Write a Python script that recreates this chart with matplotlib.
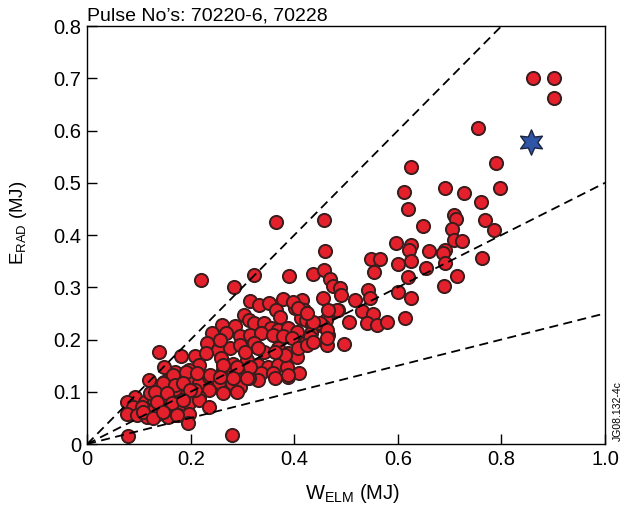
import numpy as np
import matplotlib
matplotlib.use("Agg")
import matplotlib.pyplot as plt

plt.rcParams['font.family'] = ['Liberation Sans', 'DejaVu Sans']
plt.rcParams['mathtext.fontset'] = 'custom'
plt.rcParams['mathtext.rm'] = 'Liberation Sans'
plt.rcParams['mathtext.it'] = 'Liberation Sans:italic'

# ELM data: W_ELM (MJ), E_RAD (MJ)
w_elm = [
    0.861, 0.902, 0.902, 0.754, 0.625, 0.789,
    0.612, 0.690, 0.727, 0.797, 0.761, 0.620, 0.365, 0.458, 0.648, 0.708,
    0.712, 0.769, 0.785, 0.704, 0.460, 0.597, 0.626, 0.621, 0.660, 0.691,
    0.688, 0.708, 0.724, 0.762, 0.548, 0.565, 0.600, 0.625, 0.654, 0.691,
    0.553, 0.620, 0.714, 0.689, 0.389, 0.437, 0.458, 0.468, 0.475, 0.488,
    0.491, 0.322, 0.219, 0.283, 0.543, 0.601, 0.625, 0.614, 0.518, 0.455,
    0.547, 0.531, 0.551, 0.541, 0.559, 0.579, 0.505, 0.474, 0.485, 0.462,
    0.455, 0.465, 0.464, 0.495,
    0.315, 0.332, 0.352, 0.378, 0.415, 0.418, 0.365, 0.372, 0.402, 0.412,
    0.422, 0.435, 0.432, 0.422, 0.302, 0.312, 0.260, 0.285, 0.322, 0.342,
    0.355, 0.368, 0.388, 0.405, 0.242, 0.269, 0.295, 0.315, 0.335, 0.358,
    0.378, 0.395, 0.232, 0.252, 0.275, 0.295, 0.322, 0.342, 0.368, 0.388,
    0.405, 0.408, 0.139, 0.182, 0.209, 0.229, 0.259, 0.282, 0.309, 0.329,
    0.349, 0.368, 0.385, 0.216, 0.196, 0.169, 0.149, 0.262, 0.282, 0.309,
    0.335, 0.358, 0.362, 0.388, 0.410, 0.329, 0.312, 0.119, 0.149, 0.169,
    0.192, 0.216, 0.236, 0.255, 0.279, 0.295, 0.236, 0.262, 0.289, 0.093,
    0.112, 0.129, 0.149, 0.172, 0.196, 0.216, 0.076, 0.089, 0.106, 0.129,
    0.152, 0.176, 0.196, 0.216, 0.236, 0.076, 0.096, 0.116, 0.136, 0.156,
    0.176, 0.196, 0.194, 0.079, 0.280, 0.162, 0.189, 0.209, 0.122, 0.142,
    0.169,
    0.166, 0.191, 0.212, 0.147, 0.170, 0.185, 0.131, 0.154, 0.199, 0.135,
    0.164, 0.185, 0.108, 0.127, 0.147, 0.174, 0.257, 0.305, 0.330, 0.263,
    0.290, 0.315, 0.237, 0.257, 0.282, 0.309, 0.450, 0.436, 0.463, 0.463,
    0.430, 0.425, 0.436, 0.483, 0.465, 0.382, 0.363, 0.398, 0.407, 0.425,
    0.388,
]
e_rad = [
    0.700, 0.700, 0.662, 0.604, 0.530, 0.537,
    0.483, 0.490, 0.480, 0.490, 0.464, 0.449, 0.425, 0.428, 0.417, 0.439,
    0.431, 0.428, 0.410, 0.412, 0.369, 0.385, 0.380, 0.372, 0.369, 0.372,
    0.366, 0.391, 0.388, 0.356, 0.355, 0.355, 0.345, 0.350, 0.337, 0.346,
    0.330, 0.320, 0.321, 0.302, 0.322, 0.326, 0.334, 0.316, 0.302, 0.298,
    0.286, 0.323, 0.313, 0.300, 0.295, 0.291, 0.279, 0.241, 0.276, 0.279,
    0.279, 0.255, 0.248, 0.231, 0.228, 0.233, 0.234, 0.255, 0.257, 0.238,
    0.225, 0.209, 0.190, 0.191,
    0.273, 0.266, 0.270, 0.278, 0.276, 0.257, 0.257, 0.244, 0.260, 0.241,
    0.238, 0.228, 0.212, 0.196, 0.247, 0.238, 0.228, 0.225, 0.232, 0.231,
    0.222, 0.218, 0.222, 0.215, 0.212, 0.212, 0.206, 0.209, 0.212, 0.209,
    0.206, 0.202, 0.193, 0.180, 0.183, 0.190, 0.193, 0.177, 0.183, 0.174,
    0.167, 0.183, 0.176, 0.169, 0.169, 0.174, 0.164, 0.154, 0.161, 0.151,
    0.148, 0.151, 0.148, 0.151, 0.142, 0.138, 0.148, 0.142, 0.135, 0.138,
    0.135, 0.135, 0.126, 0.129, 0.135, 0.122, 0.126, 0.122, 0.119, 0.122,
    0.122, 0.116, 0.129, 0.119, 0.116, 0.110, 0.103, 0.097, 0.100, 0.090,
    0.081, 0.084, 0.090, 0.094, 0.097, 0.090, 0.081, 0.071, 0.071, 0.065,
    0.065, 0.071, 0.078, 0.084, 0.071, 0.058, 0.055, 0.052, 0.058, 0.052,
    0.055, 0.058, 0.040, 0.015, 0.017, 0.110, 0.106, 0.103, 0.097, 0.103,
    0.106,
    0.132, 0.138, 0.136, 0.117, 0.113, 0.117, 0.100, 0.098, 0.103, 0.080,
    0.078, 0.084, 0.061, 0.050, 0.061, 0.056, 0.199, 0.176, 0.184, 0.151,
    0.147, 0.147, 0.132, 0.128, 0.126, 0.126, 0.232, 0.234, 0.218, 0.203,
    0.205, 0.189, 0.195, 0.256, 0.256, 0.170, 0.176, 0.272, 0.260, 0.251,
    0.132,
]

# single highlighted pulse
star_w = [0.857]
star_e = [0.578]

# E_RAD / W_ELM reference ratios
ratios = [1.0, 0.5, 0.25]

x_ticks = [0, 0.2, 0.4, 0.6, 0.8, 1.0]
x_labels = ['0', '0.2', '0.4', '0.6', '0.8', '1.0']
y_ticks = [0, 0.1, 0.2, 0.3, 0.4, 0.5, 0.6, 0.7, 0.8]
y_labels = ['0', '0.1', '0.2', '0.3', '0.4', '0.5', '0.6', '0.7', '0.8']

fig = plt.figure(figsize=(6.27, 5.16), dpi=100)
ax = fig.add_axes([0.139, 0.1395, 0.826, 0.810])

xl = np.array([0.0, 1.0])
for r in ratios:
    ax.plot(xl, r * xl, color='black', lw=1.3, linestyle=(0, (5, 3)), zorder=3)

ax.scatter(w_elm, e_rad, s=90, facecolor='#e3202b', edgecolor='#3b1d1d',
           linewidth=1.4, zorder=2)
ax.scatter(star_w, star_e, marker=(6, 1, 0), s=330, facecolor='#2f56a6',
           edgecolor='#1d2340', linewidth=1.0, zorder=4)

ax.set_xlim(0, 1.0)
ax.set_ylim(0, 0.8)
ax.set_xticks(x_ticks)
ax.set_xticklabels(x_labels)
ax.set_yticks(y_ticks)
ax.set_yticklabels(y_labels)
ax.tick_params(direction='in', length=7, width=1, labelsize=14.5, pad=4)
for sp in ax.spines.values():
    sp.set_linewidth(1.0)

ax.set_xlabel(r'W$_{\mathrm{ELM}}$ (MJ)', fontsize=14.5)
ax.set_ylabel(r'E$_{\mathrm{RAD}}$ (MJ)', fontsize=13.5)
ax.xaxis.set_label_coords(0.512, -0.092)
ax.yaxis.set_label_coords(-0.112, 0.53)

ax.text(0.0, 1.003, 'Pulse No\u2019s: 70220-6, 70228', transform=ax.transAxes,
        ha='left', va='bottom', fontsize=14)
fig.text(0.993, 0.145, 'JG08.132-4c', rotation=90, ha='right', va='bottom',
         fontsize=7.5)

fig.savefig('out.png', dpi=100)
